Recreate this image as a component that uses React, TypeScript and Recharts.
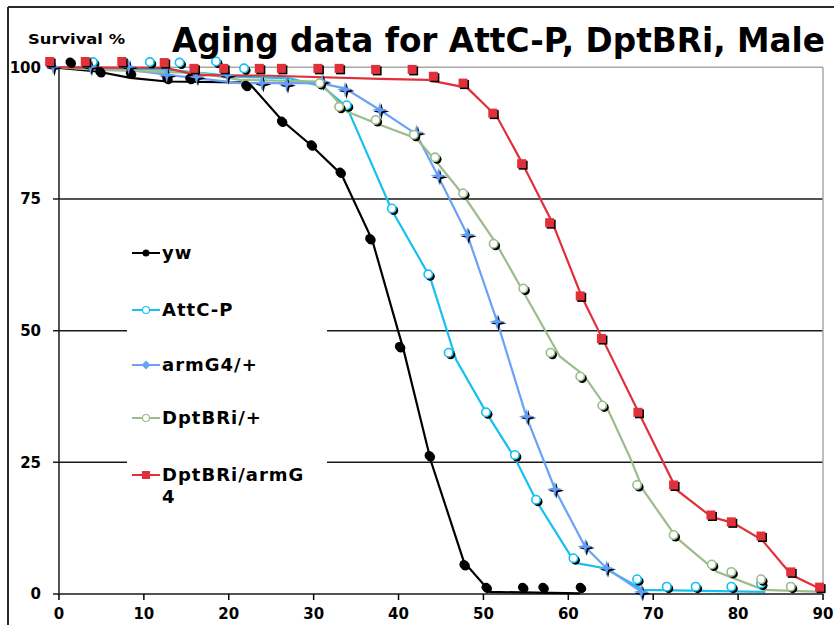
import React from "react";
import {
  ComposedChart,
  Line,
  Scatter,
  XAxis,
  YAxis,
  ReferenceLine,
  Legend,
} from "recharts";

// Axis ticks
const xTicks = [0, 10, 20, 30, 40, 50, 60, 70, 80, 90];
const yTicks = [0, 25, 50, 75, 100];

// yw
const ywLine = [
  [0, 99.9], [4.5, 99.2], [8.4, 98.0], [12.7, 97.3], [21.3, 97.15], [22.5, 96.8],
  [26.4, 89.7], [29.7, 85.2], [33.3, 79.6], [36.9, 67.2], [40.6, 46.3], [43.8, 25.3],
  [47.7, 6.1], [50.8, 0.4], [61.4, 0.1],
];
const ywMarks = [
  [1.3, 101.0], [4.8, 99.2], [8.4, 98.9], [12.7, 97.9], [15.4, 97.9], [22.0, 96.6],
  [26.2, 89.8], [29.7, 85.3], [33.1, 80.1], [36.6, 67.5], [40.1, 47.0], [43.6, 26.3],
  [47.7, 5.6], [50.3, 1.3], [54.6, 1.3], [57.0, 1.3], [61.4, 1.3],
];

// AttC-P
const attcLine = [
  [0, 100], [4.8, 99.9], [13.1, 99.5], [21.3, 98.2], [27.2, 97.9], [31.1, 96.3],
  [33.9, 92.5], [39.2, 72.9], [43.7, 60.2], [46.8, 44.4], [50.5, 34.0], [53.7, 25.8],
  [56.3, 17.5], [60.8, 5.9], [64.3, 4.9], [68.8, 0.8], [83.2, 0.4],
];
const attcMarks = [
  [4.0, 101.0], [10.7, 101.0], [14.2, 100.9], [18.5, 101.1], [21.8, 99.8], [33.9, 92.8],
  [39.2, 73.2], [43.5, 60.7], [45.9, 45.8], [50.3, 34.5], [53.7, 26.4], [56.2, 17.9],
  [60.6, 6.8], [68.1, 2.8], [71.6, 1.4], [75.0, 1.4], [79.2, 1.4], [82.7, 2.0],
];

// armG4/+
const armLine = [
  [0, 100], [8.4, 99.5], [13.1, 98.5], [21.3, 97.0], [30.7, 97.0], [33.7, 96.0],
  [37.8, 91.9], [42.1, 87.3], [44.7, 79.2], [48.1, 68.2], [51.6, 51.8], [55.1, 33.5],
  [58.5, 19.6], [62.0, 8.9], [64.5, 4.9], [68.8, 0.2],
];
const armMarks = [
  [-0.7, 100.1], [3.7, 100.1], [8.2, 100.1], [12.7, 98.5], [16.2, 98.2], [19.8, 98.5],
  [23.9, 97.0], [26.8, 96.8], [31.0, 97.3], [33.7, 95.8], [37.8, 91.9], [42.1, 87.6],
  [44.7, 79.4], [48.1, 68.2], [51.6, 51.7], [55.1, 33.7], [58.4, 19.9], [62.0, 9.0],
  [64.5, 4.9], [68.6, 0.4],
];

// DptBRi/+
const dptLine = [
  [0, 100], [4.8, 99.5], [16.6, 98.9], [21.3, 97.6], [30.7, 97.3], [33.9, 91.6],
  [37.8, 89.1], [42.1, 86.5], [44.3, 82.4], [47.6, 75.8], [51.4, 66.8], [54.7, 57.4],
  [59.0, 45.1], [61.8, 41.6], [64.7, 34.9], [67.3, 25.8], [68.8, 19.8], [72.8, 10.6],
  [77.5, 4.2], [83.0, 0.8], [90.0, 0.4],
];
const dptMarks = [
  [30.7, 97.0], [33.0, 92.5], [37.3, 90.0], [41.8, 87.2], [44.3, 82.9], [47.6, 76.1],
  [51.2, 66.5], [54.7, 58.0], [57.9, 45.8], [61.4, 41.3], [64.0, 35.8], [68.1, 20.7],
  [72.4, 11.2], [76.9, 5.6], [79.2, 4.2], [82.7, 2.8], [86.2, 1.4],
];

// DptBRi/armG4
const dptArmLine = [
  [0, 100], [12.6, 99.9], [16.3, 98.5], [24.9, 98.4], [37.8, 97.8], [43.4, 97.6],
  [48.1, 96.1], [51.6, 90.6], [54.5, 82.0], [58.1, 70.6], [61.6, 56.4], [64.1, 48.2],
  [68.3, 34.4], [72.8, 19.7], [76.9, 14.6], [79.4, 13.5], [82.8, 10.3], [86.3, 3.6],
  [89.9, 0.8],
];
const dptArmMarks = [
  [-1.1, 101.1], [3.1, 101.1], [7.4, 101.1], [12.4, 100.9], [15.9, 99.8], [19.4, 99.8],
  [23.6, 99.8], [26.2, 99.8], [30.5, 99.8], [33.0, 99.8], [37.3, 99.6], [41.6, 99.6],
  [44.1, 98.3], [47.6, 97.0], [51.1, 91.3], [54.5, 81.7], [57.8, 70.5], [61.4, 56.6],
  [63.9, 48.5], [68.2, 34.5], [72.4, 20.7], [76.8, 15.0], [79.2, 13.7], [82.7, 11.0],
  [86.2, 4.2], [89.6, 1.3],
];

const toXY = (pts: number[][]) => pts.map(([x, y]) => ({ x, y }));

// Marker shapes (Excel style, with a dark drop shadow)
const DotShape = ({ cx, cy }: any) => (
  <g>
    <circle cx={cx + 1.5} cy={cy + 1.5} r={4.5} fill="#000" />
    <circle cx={cx} cy={cy} r={4.5} fill="#000" />
  </g>
);

const ringShape = (color: string) => ({ cx, cy }: any) => (
  <g>
    <circle cx={cx + 2} cy={cy + 2} r={4.5} fill="#000" />
    <circle cx={cx} cy={cy} r={4.2} fill="#fff" stroke={color} strokeWidth={1.6} />
  </g>
);

const starPts = (cx: number, cy: number) =>
  [
    [0, -8], [1.6, -1.6], [8, 0], [1.6, 1.6], [0, 8], [-1.6, 1.6], [-8, 0], [-1.6, -1.6],
  ]
    .map(([dx, dy]) => `${cx + dx},${cy + dy}`)
    .join(" ");

const StarShape = ({ cx, cy }: any) => (
  <g>
    <polygon points={starPts(cx + 1.5, cy + 1.5)} fill="#000" />
    <polygon points={starPts(cx, cy)} fill="#5f9cf5" />
  </g>
);

const SquareShape = ({ cx, cy }: any) => (
  <g>
    <rect x={cx - 3} y={cy - 3} width={9} height={9} fill="#000" />
    <rect x={cx - 4.5} y={cy - 4.5} width={9} height={9} fill="#e0303a" />
  </g>
);

const series = [
  { name: "yw", color: "#000000", line: ywLine, marks: ywMarks, shape: DotShape, icon: "dot" },
  { name: "AttC-P", color: "#16c0f0", line: attcLine, marks: attcMarks, shape: ringShape("#16c0f0"), icon: "ring" },
  { name: "armG4/+", color: "#6aa2f6", line: armLine, marks: armMarks, shape: StarShape, icon: "diamond" },
  { name: "DptBRi/+", color: "#9cbc8c", line: dptLine, marks: dptMarks, shape: ringShape("#9cbc8c"), icon: "ring" },
  { name: "DptBRi/armG4", color: "#e0303a", line: dptArmLine, marks: dptArmMarks, shape: SquareShape, icon: "square" },
];

const legendRows = [31, 88, 143, 196, 253];

const LegendIcon = ({ color, icon }: { color: string; icon: string }) => (
  <svg width={30} height={14} style={{ position: "absolute", left: 5, top: 4 }}>
    <line x1={0} y1={7} x2={28} y2={7} stroke={color} strokeWidth={2} />
    {icon === "dot" && <circle cx={14} cy={7} r={3.5} fill={color} />}
    {icon === "ring" && <circle cx={14} cy={7} r={3.5} fill="#fff" stroke={color} strokeWidth={1.2} />}
    {icon === "diamond" && <polygon points="14,2.5 18.5,7 14,11.5 9.5,7" fill={color} />}
    {icon === "square" && <rect x={10} y={3} width={8} height={8} fill={color} />}
  </svg>
);

const CustomLegend = () => (
  <div style={{ position: "relative", width: 200, height: 300, background: "#fff" }}>
    {series.map((s, i) => (
      <div key={s.name} style={{ position: "absolute", left: 0, top: legendRows[i] - 11, width: 200 }}>
        <LegendIcon color={s.color} icon={s.icon} />
        <div
          style={{
            position: "absolute",
            left: 35,
            top: 0,
            fontFamily: "DejaVu Sans",
            fontWeight: "bold",
            fontSize: 18,
            letterSpacing: 1,
            lineHeight: "22px",
            color: "#000",
            whiteSpace: "nowrap",
          }}
        >
          {s.name === "DptBRi/armG4" ? (
            <>
              DptBRi/armG
              <br />4
            </>
          ) : (
            s.name
          )}
        </div>
      </div>
    ))}
  </div>
);

const tickStyle = { fontFamily: "DejaVu Sans", fontWeight: "bold", fontSize: 15, fill: "#000" };

export default function App() {
  return (
    <div style={{ position: "absolute", left: 0, top: 0, width: 834, height: 625, background: "#fff" }}>
      <ComposedChart
        width={834}
        height={625}
        margin={{ top: 51.5, right: 11, bottom: 7, left: 8 }}
      >
        <XAxis
          type="number"
          dataKey="x"
          domain={[-2, 90]}
          ticks={xTicks}
          axisLine={false}
          tickLine={{ stroke: "#000", strokeWidth: 1.5 }}
          tickSize={6}
          tickMargin={8}
          height={24}
          tick={tickStyle}
          interval={0}
        />
        <YAxis
          type="number"
          dataKey="y"
          domain={[0, 103]}
          ticks={yTicks}
          axisLine={false}
          tickLine={false}
          tickSize={0}
          tickMargin={1}
          width={34}
          tick={tickStyle}
          interval={0}
        />
        {[0, 25, 50, 75].map((v) => (
          <ReferenceLine
            key={v}
            segment={[{ x: -0.7, y: v }, { x: 90, y: v }]}
            stroke="#1a1a1a"
            strokeWidth={1.5}
          />
        ))}
        <ReferenceLine segment={[{ x: -0.7, y: 100 }, { x: 90, y: 100 }]} stroke="#a8a8a8" strokeWidth={1.5} />
        <ReferenceLine segment={[{ x: 90, y: 0 }, { x: 90, y: 100 }]} stroke="#a8a8a8" strokeWidth={1.5} />
        <ReferenceLine segment={[{ x: 0, y: 0 }, { x: 0, y: 100 }]} stroke="#1a1a1a" strokeWidth={1.5} />
        {series.map((s) => (
          <Line
            key={s.name + "-line"}
            data={toXY(s.line)}
            dataKey="y"
            type="linear"
            stroke={s.color}
            strokeWidth={2.2}
            dot={false}
            activeDot={false}
            isAnimationActive={false}
            legendType="none"
          />
        ))}
        {series.map((s) => (
          <Scatter
            key={s.name + "-marks"}
            data={toXY(s.marks)}
            dataKey="y"
            shape={s.shape}
            isAnimationActive={false}
            legendType="none"
          />
        ))}
        <Legend
          layout="vertical"
          align="center"
          verticalAlign="middle"
          content={() => <CustomLegend />}
          wrapperStyle={{ position: "absolute", left: 127, top: 222, width: 200, height: 300 }}
        />
      </ComposedChart>
      <svg
        width={834}
        height={625}
        style={{ position: "absolute", left: 0, top: 0, pointerEvents: "none" }}
      >
        <line x1={8} y1={7} x2={834} y2={7} stroke="#2a2a2a" strokeWidth={2} />
        <line x1={8} y1={7} x2={8} y2={625} stroke="#2a2a2a" strokeWidth={2} />
        <text
          x={28}
          y={44}
          fontFamily="DejaVu Sans"
          fontWeight="bold"
          fontSize={14}
          textLength={97}
          lengthAdjust="spacingAndGlyphs"
          fill="#000"
        >
          Survival %
        </text>
        <text
          x={172}
          y={52}
          fontFamily="DejaVu Sans"
          fontWeight="bold"
          fontSize={33}
          textLength={653}
          lengthAdjust="spacingAndGlyphs"
          fill="#000"
        >
          Aging data for AttC-P, DptBRi, Male
        </text>
      </svg>
    </div>
  );
}
